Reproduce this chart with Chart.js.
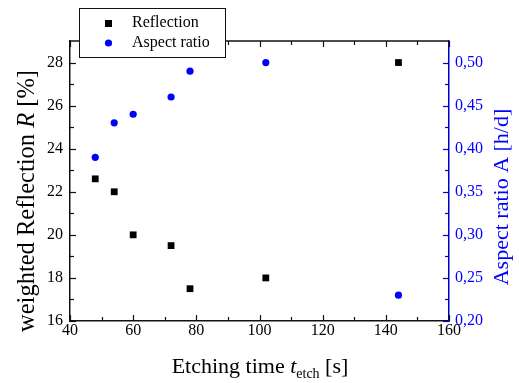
<!DOCTYPE html>
<html>
<head>
<meta charset="utf-8">
<script src="https://cdn.jsdelivr.net/npm/chart.js@4"></script>
<style>
  html, body { margin: 0; padding: 0; background: #fff; }
  #wrap { width: 519px; height: 383px; }
</style>
</head>
<body>
<div id="wrap"><canvas id="myChart" width="519" height="383"></canvas></div>
<script>
// etching time [s]
const etchTimes = [48, 54, 60, 72, 78, 102, 144];
// weighted reflection [%]
const reflection = [22.6, 22, 20, 19.5, 17.5, 18, 28];
// aspect ratio [h/d]
const aspectRatio = [0.39, 0.43, 0.44, 0.46, 0.49, 0.50, 0.23];

const xTicks = [40, 60, 80, 100, 120, 140, 160];
const xMinor = [50, 70, 90, 110, 130, 150];
const yTicks = [16, 18, 20, 22, 24, 26, 28];
const yMinor = [17, 19, 21, 23, 25, 27];
const y1Ticks = [0.20, 0.25, 0.30, 0.35, 0.40, 0.45, 0.50];
const y1Minor = [0.225, 0.275, 0.325, 0.375, 0.425, 0.475];

const SERIF = "'Liberation Serif', 'Times New Roman', serif";
const BLUE = '#0000ff';
const AXIS_BLUE = '#0000cc';

function pts(xs, ys) {
  return xs.map((x, i) => ({ x: x, y: ys[i] }));
}

function fixTicks(list) {
  return function (scale) {
    scale.ticks = list.map(v => ({ value: v }));
  };
}

function drawParts(ctx, parts, x, y) {
  let total = 0;
  parts.forEach(p => { ctx.font = p[1]; total += ctx.measureText(p[0]).width; });
  let cx = x - total / 2;
  ctx.textAlign = 'left';
  parts.forEach(p => {
    ctx.font = p[1];
    ctx.fillText(p[0], cx, y + (p[2] || 0));
    cx += ctx.measureText(p[0]).width;
  });
}

// inward tick marks, top frame, axis titles and legend box
const decorations = {
  id: 'decorations',
  afterDraw(chart) {
    const ctx = chart.ctx;
    const a = chart.chartArea;
    const sx = chart.scales.x, sy = chart.scales.y, sy1 = chart.scales.y1;
    ctx.save();

    // top frame
    ctx.strokeStyle = '#111';
    ctx.lineWidth = 1.5;
    ctx.beginPath();
    ctx.moveTo(a.left, a.top);
    ctx.lineTo(a.right, a.top);
    ctx.stroke();

    // ticks on x (bottom and top)
    ctx.lineWidth = 1.2;
    xTicks.concat(xMinor).forEach(v => {
      const px = Math.round(sx.getPixelForValue(v)) + 0.5;
      const len = xTicks.includes(v) ? 6 : 4;
      ctx.beginPath();
      ctx.moveTo(px, a.bottom); ctx.lineTo(px, a.bottom - len);
      ctx.moveTo(px, a.top); ctx.lineTo(px, a.top + len);
      ctx.stroke();
    });
    // ticks on left y
    yTicks.concat(yMinor).forEach(v => {
      const py = Math.round(sy.getPixelForValue(v)) + 0.5;
      const len = yTicks.includes(v) ? 6 : 4;
      ctx.beginPath();
      ctx.moveTo(a.left, py); ctx.lineTo(a.left + len, py);
      ctx.stroke();
    });
    // ticks on right y
    ctx.strokeStyle = AXIS_BLUE;
    y1Ticks.concat(y1Minor).forEach(v => {
      const py = Math.round(sy1.getPixelForValue(v)) + 0.5;
      const len = y1Ticks.includes(v) ? 6 : 4;
      ctx.beginPath();
      ctx.moveTo(a.right, py); ctx.lineTo(a.right - len, py);
      ctx.stroke();
    });

    // left title
    ctx.fillStyle = '#000';
    ctx.textBaseline = 'middle';
    ctx.save();
    ctx.translate(28, 201);
    ctx.rotate(-Math.PI / 2);
    drawParts(ctx, [
      ['weighted Reflection ', '24.5px ' + SERIF],
      ['R', 'italic 24.5px ' + SERIF],
      [' [%]', '24.5px ' + SERIF]
    ], 0, 0);
    ctx.restore();

    // right title
    ctx.save();
    ctx.fillStyle = BLUE;
    ctx.translate(502, 197);
    ctx.rotate(-Math.PI / 2);
    drawParts(ctx, [['Aspect ratio A [h/d]', '22px ' + SERIF]], 0, 0);
    ctx.restore();

    // bottom title
    ctx.fillStyle = '#000';
    ctx.textBaseline = 'alphabetic';
    drawParts(ctx, [
      ['Etching time ', '22px ' + SERIF, 0],
      ['t', 'italic 22px ' + SERIF, 0],
      ['etch', '14px ' + SERIF, 5],
      [' [s]', '22px ' + SERIF, 0]
    ], 260, 373);

    // legend box
    ctx.fillStyle = '#fff';
    ctx.fillRect(79.5, 8.5, 146, 49);
    ctx.strokeStyle = '#111';
    ctx.lineWidth = 1;
    ctx.strokeRect(79.5, 8.5, 146, 49);
    ctx.fillStyle = '#000';
    ctx.fillRect(105, 20, 7, 7);
    ctx.fillStyle = BLUE;
    ctx.beginPath();
    ctx.arc(108.5, 43, 3.6, 0, Math.PI * 2);
    ctx.fill();
    ctx.fillStyle = '#000';
    ctx.font = '16px ' + SERIF;
    ctx.textBaseline = 'middle';
    ctx.textAlign = 'left';
    ctx.fillText('Reflection', 132, 23);
    ctx.fillText('Aspect ratio', 132, 43);

    ctx.restore();
  }
};

const ctx = document.getElementById('myChart').getContext('2d');
const myChart = new Chart(ctx, {
  type: 'scatter',
  data: {
    datasets: [
      {
        label: 'Reflection',
        data: pts(etchTimes, reflection),
        yAxisID: 'y',
        pointStyle: 'rect',
        pointRadius: 4.8,
        pointHoverRadius: 4.8,
        backgroundColor: '#000',
        borderColor: '#000',
        borderWidth: 0,
      },
      {
        label: 'Aspect ratio',
        data: pts(etchTimes, aspectRatio),
        yAxisID: 'y1',
        pointStyle: 'circle',
        pointRadius: 3.6,
        pointHoverRadius: 3.6,
        backgroundColor: BLUE,
        borderColor: BLUE,
        borderWidth: 0,
      },
    ],
  },
  options: {
    responsive: false,
    animation: false,
    events: [],
    layout: { padding: { top: 41, left: 0, right: 0, bottom: 0 } },
    plugins: {
      legend: { display: false },
      tooltip: { enabled: false },
    },
    scales: {
      x: {
        type: 'linear',
        min: 40,
        max: 160,
        afterBuildTicks: fixTicks(xTicks),
        afterFit: s => { s.height = 62; },
        grid: { display: false, drawTicks: false },
        border: { display: true, color: '#111', width: 1.5 },
        ticks: {
          padding: 0,
          color: '#000',
          font: { family: SERIF, size: 16 },
        },
      },
      y: {
        type: 'linear',
        position: 'left',
        min: 16,
        max: 29,
        afterBuildTicks: fixTicks(yTicks),
        afterFit: s => { s.width = 70; },
        grid: { display: false, drawTicks: false },
        border: { display: true, color: '#111', width: 1.5 },
        ticks: {
          padding: 7,
          color: '#000',
          font: { family: SERIF, size: 16 },
        },
      },
      y1: {
        type: 'linear',
        position: 'right',
        min: 0.2,
        max: 0.525,
        afterBuildTicks: fixTicks(y1Ticks),
        afterFit: s => { s.width = 70; },
        grid: { display: false, drawTicks: false },
        border: { display: true, color: AXIS_BLUE, width: 1.5 },
        ticks: {
          padding: 6,
          color: BLUE,
          font: { family: SERIF, size: 16 },
          callback: v => v.toFixed(2).replace('.', ','),
        },
      },
    },
  },
  plugins: [decorations],
});
</script>
</body>
</html>
